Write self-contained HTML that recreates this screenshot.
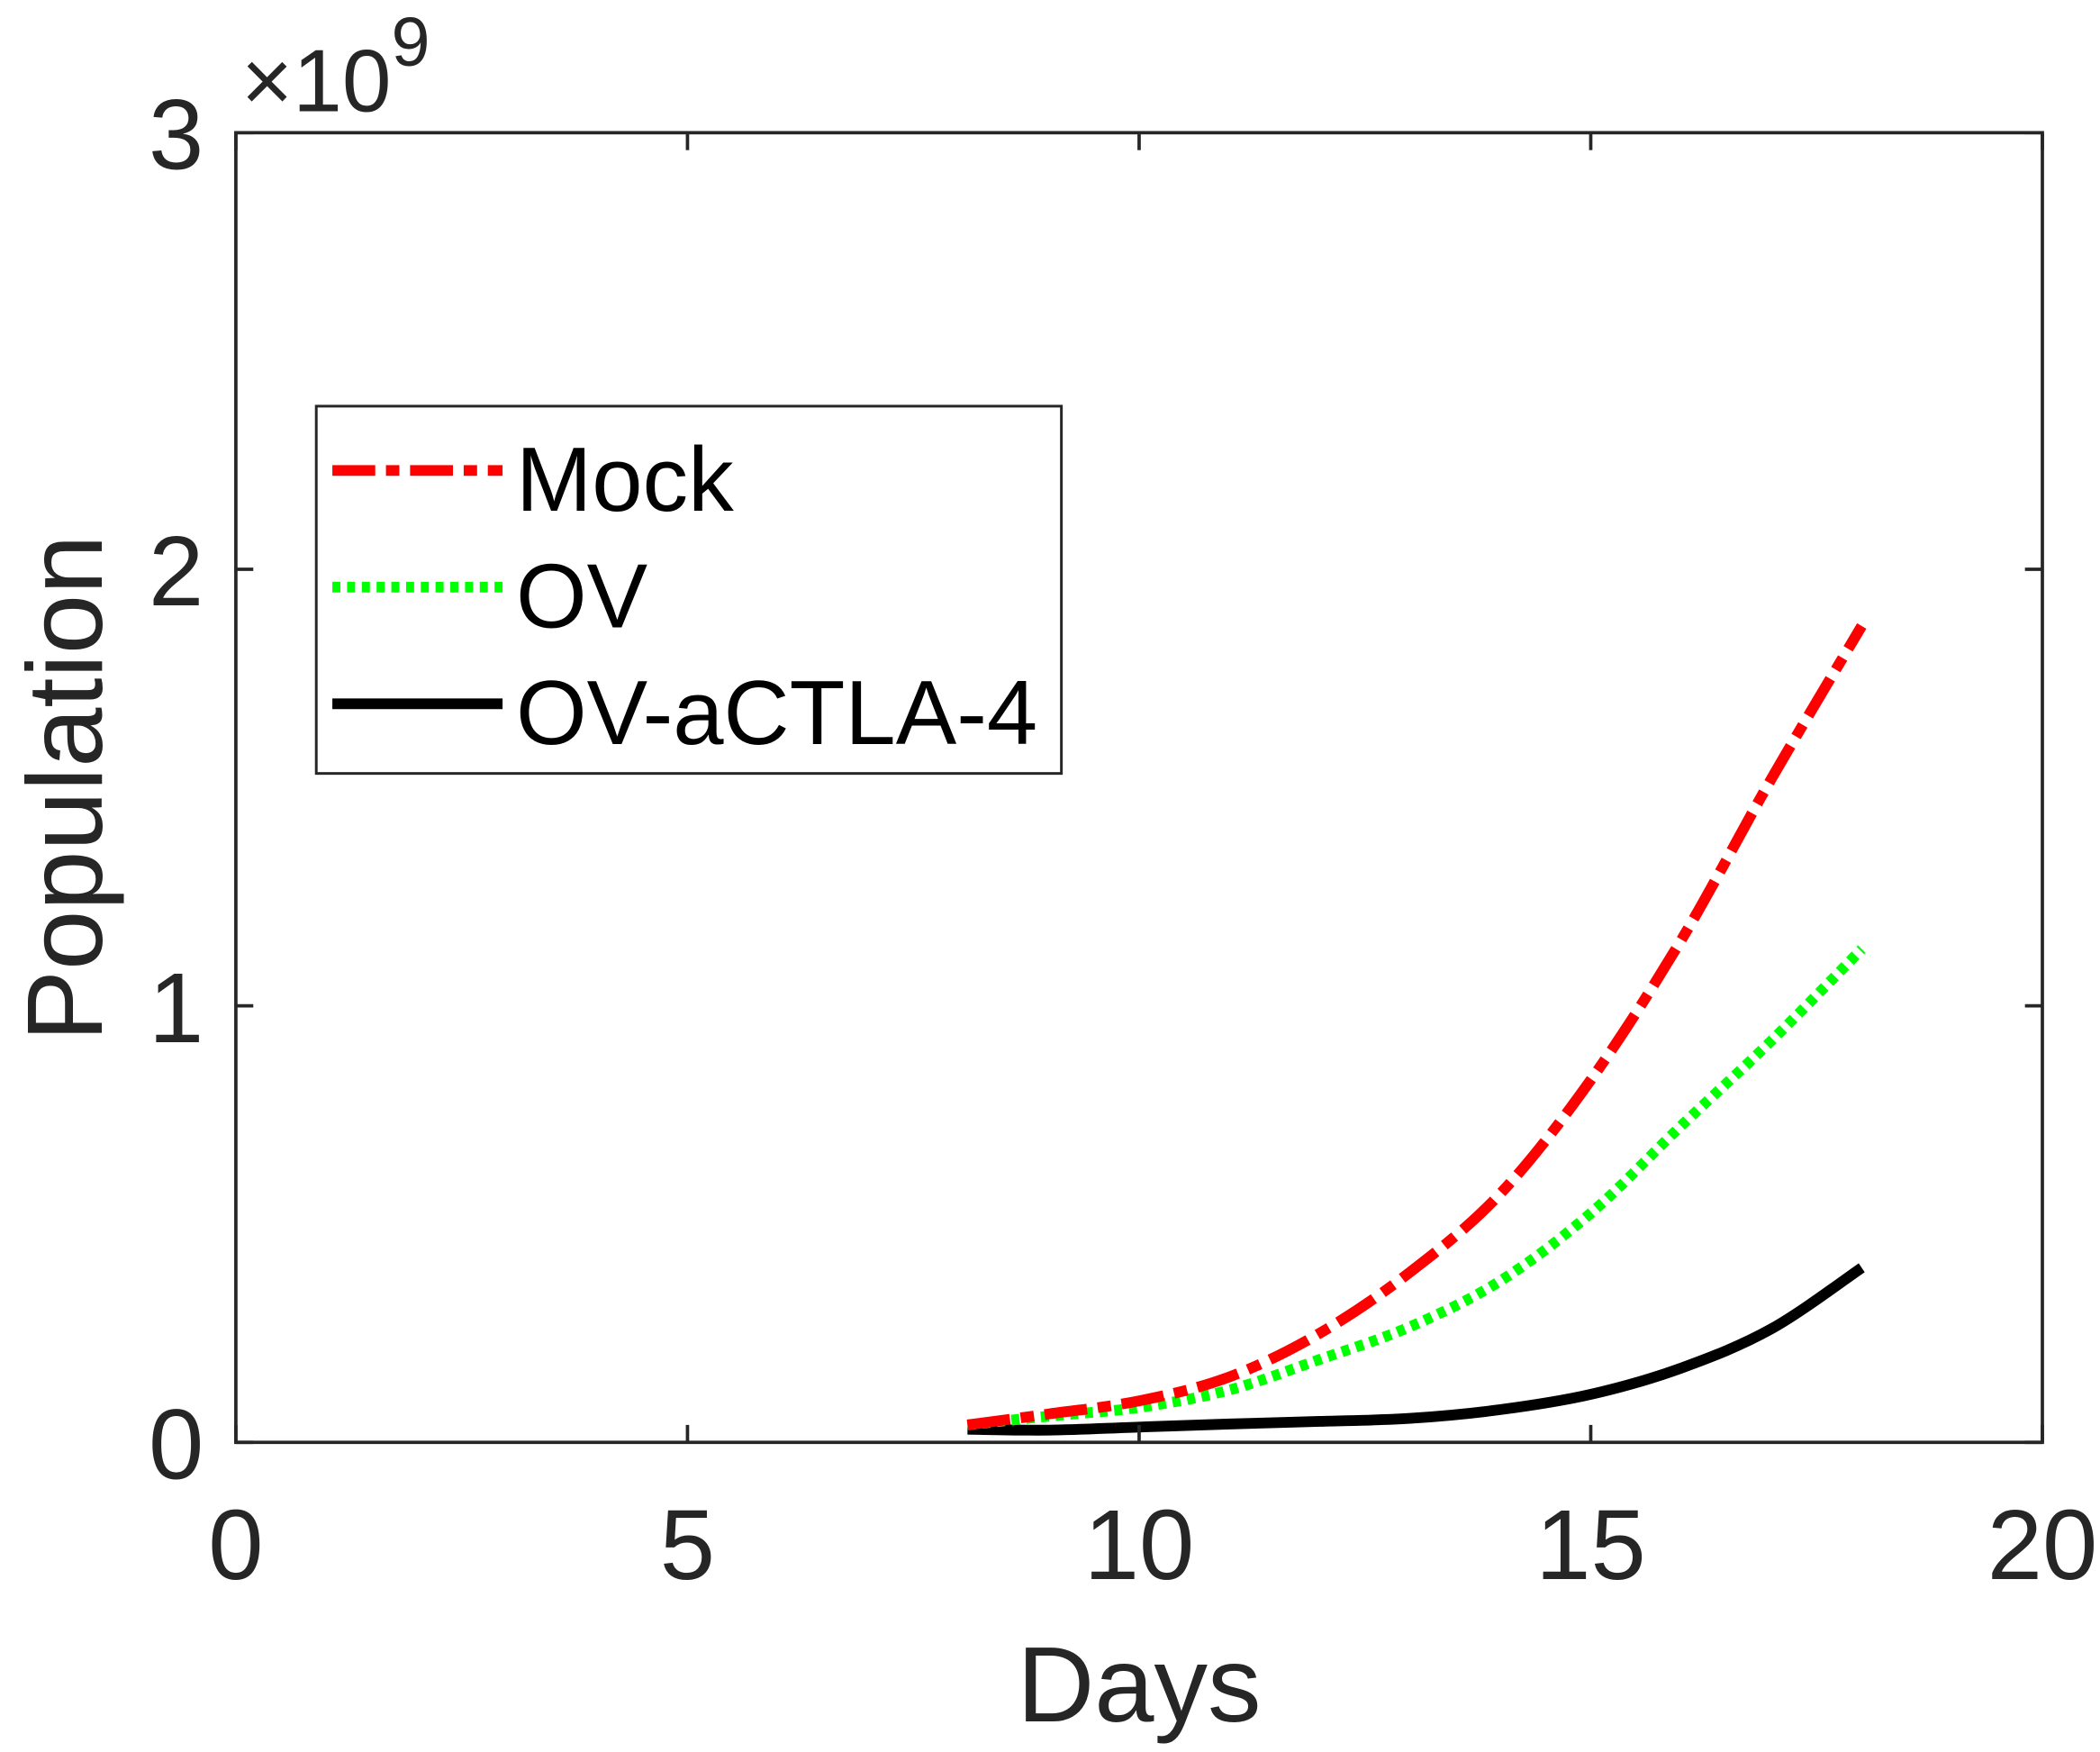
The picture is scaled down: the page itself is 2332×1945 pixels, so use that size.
<!DOCTYPE html>
<html><head><meta charset="utf-8"><style>
html,body{margin:0;padding:0;background:#fff;}
svg{display:block;}
text{font-family:"Liberation Sans",sans-serif;fill:#262626;}
</style></head><body>
<svg id="chart" width="2332" height="1945" viewBox="0 0 1567 1307" preserveAspectRatio="none" xmlns="http://www.w3.org/2000/svg">
<rect x="0" y="0" width="1567" height="1307" fill="#fff"/>
<g id="series"></g>
<rect x="176" y="99" width="1348" height="977" fill="none" stroke="#262626" stroke-width="2.5"/>
<g id="ticks"></g>
<text x="180" y="83" font-size="66">×10<tspan font-size="52" dy="-34">9</tspan></text>
<text x="850" y="1284" font-size="80" text-anchor="middle">Days</text>
<text transform="translate(76,588) rotate(-90)" font-size="80" text-anchor="middle">Population</text>
<g>
<rect x="236" y="303" width="556" height="274" fill="#fff" stroke="#262626" stroke-width="2"/>
<line x1="248" y1="351" x2="375" y2="351" stroke="#ff0000" stroke-width="8" stroke-dasharray="32,8,10,8"/>
<text x="385" y="381" font-size="68" style="fill:#000">Mock</text>
<line x1="248" y1="438" x2="375" y2="438" stroke="#00ff00" stroke-width="8" stroke-dasharray="6,5"/>
<text x="385" y="468" font-size="68" style="fill:#000">OV</text>
<line x1="248" y1="525" x2="375" y2="525" stroke="#000" stroke-width="8"/>
<text x="385" y="555" font-size="68" style="fill:#000">OV-aCTLA-4</text>
</g>
</svg>
<script>
const days = [8.1, 9, 10, 11, 12, 13, 14, 15, 16, 17, 18];
const mockVals = [0.04, 0.065, 0.095, 0.15, 0.25, 0.39, 0.57, 0.83, 1.15, 1.52, 1.87];
const ovVals = [0.04, 0.06, 0.08, 0.12, 0.19, 0.265, 0.37, 0.525, 0.725, 0.92, 1.13];
const comboVals = [0.03, 0.028, 0.035, 0.042, 0.048, 0.055, 0.075, 0.11, 0.17, 0.26, 0.40];
const xTicks = [0, 5, 10, 15, 20];
const yTicks = [0, 1, 2, 3];
const xTickLabels = ["0", "5", "10", "15", "20"];
const yTickLabels = ["0", "1", "2", "3"];

const X0=176, X1=1524, Y0=1076, Y1=99;
function sx(d){return X0+(d-0)/(20-0)*(X1-X0);}
function sy(v){return Y0-(v-0)/(3-0)*(Y0-Y1);}
const NS="http://www.w3.org/2000/svg";
function smooth(xs, ys){
  const p=xs.map((x,i)=>[sx(x),sy(ys[i])]);
  let d="M"+p[0][0]+","+p[0][1];
  for(let i=0;i<p.length-1;i++){
    const p0=p[Math.max(0,i-1)],p1=p[i],p2=p[i+1],p3=p[Math.min(p.length-1,i+2)];
    const c1=[p1[0]+(p2[0]-p0[0])/6,p1[1]+(p2[1]-p0[1])/6];
    const c2=[p2[0]-(p3[0]-p1[0])/6,p2[1]-(p3[1]-p1[1])/6];
    d+=" C"+c1[0]+","+c1[1]+" "+c2[0]+","+c2[1]+" "+p2[0]+","+p2[1];
  }
  return d;
}
const g=document.getElementById('series');
function addLine(vals,color,dash,name){
  const el=document.createElementNS(NS,'path');
  el.setAttribute('d',smooth(days,vals));
  el.setAttribute('fill','none');
  el.setAttribute('stroke',color);
  el.setAttribute('stroke-width','8');
  if(dash) el.setAttribute('stroke-dasharray',dash);
  
  
  g.appendChild(el);
}
addLine(comboVals,'#000',null,'ov-actla4-line');
addLine(ovVals,'#00ff00','6,5','ov-line');
addLine(mockVals,'#ff0000','32,8,10,8','mock-line');

const t=document.getElementById('ticks');
xTicks.forEach((v,i)=>{
  const x=sx(v);
  [[Y0,Y0-13],[Y1,Y1+13]].forEach(([a,b])=>{
    const l=document.createElementNS(NS,'line');
    l.setAttribute('x1',x);l.setAttribute('x2',x);l.setAttribute('y1',a);l.setAttribute('y2',b);
    l.setAttribute('stroke','#262626');l.setAttribute('stroke-width','2.5');
    
    
    t.appendChild(l);
  });
  const tx=document.createElementNS(NS,'text');
  tx.setAttribute('x',x);tx.setAttribute('y',1178);tx.setAttribute('font-size','74');tx.setAttribute('text-anchor','middle');
  tx.textContent=xTickLabels[i];
  
  
  t.appendChild(tx);
});
yTicks.forEach((v,i)=>{
  const y=sy(v);
  [[X0,X0+13],[X1,X1-13]].forEach(([a,b])=>{
    const l=document.createElementNS(NS,'line');
    l.setAttribute('x1',a);l.setAttribute('x2',b);l.setAttribute('y1',y);l.setAttribute('y2',y);
    l.setAttribute('stroke','#262626');l.setAttribute('stroke-width','2.5');
    
    
    t.appendChild(l);
  });
  const tx=document.createElementNS(NS,'text');
  tx.setAttribute('x',152);tx.setAttribute('y',y+27);tx.setAttribute('font-size','74');tx.setAttribute('text-anchor','end');
  tx.textContent=yTickLabels[i];
  
  
  t.appendChild(tx);
});
</script>
</body></html>
